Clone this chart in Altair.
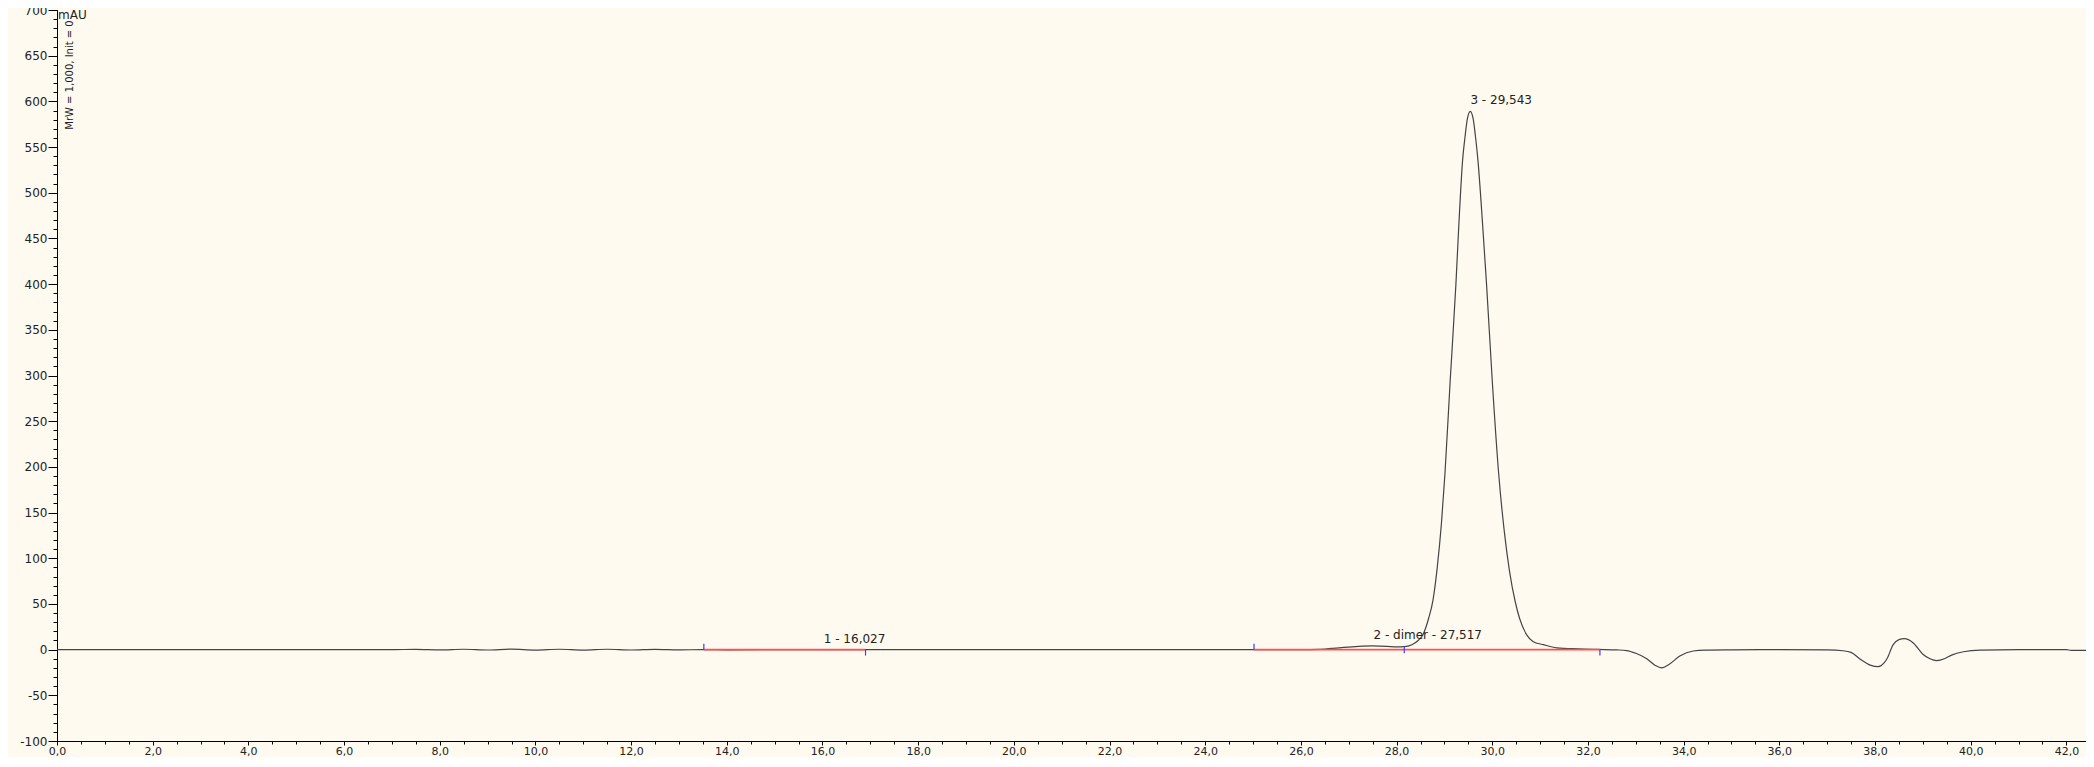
import altair as alt
import pandas as pd

# ---------------- data ----------------
times = [0.0, 2.0, 4.0, 6.0, 7.0, 7.5, 8.0, 8.5, 9.0, 9.5, 10.0, 10.5, 11.0, 11.5,
         12.0, 12.5, 13.0, 13.5, 14.0, 16.0, 20.0, 24.0, 26.0, 26.4, 26.8, 27.2,
         27.5, 27.8, 28.0, 28.16, 28.32, 28.45, 28.55, 28.67, 28.76, 28.85, 28.94,
         29.01, 29.12, 29.24, 29.30, 29.38, 29.43, 29.48, 29.54, 29.60, 29.65,
         29.70, 29.80, 29.88, 30.00, 30.13, 30.25, 30.36, 30.48, 30.57, 30.72,
         30.85, 31.07, 31.35, 31.8, 32.2, 32.6, 32.81, 33.0, 33.23, 33.4, 33.54,
         33.7, 33.92, 34.2, 34.45, 35.0, 36.0, 37.0, 37.33, 37.5, 37.69, 37.9,
         38.07, 38.18, 38.25, 38.38, 38.5, 38.61, 38.8, 39.0, 39.15, 39.29, 39.45,
         39.6, 39.85, 40.2, 41.0, 42.0, 42.1, 42.6]
signal = [0.0, 0.0, 0.0, 0.1, 0.0, 0.3, -0.3, 0.4, -0.4, 0.5, -0.5, 0.4, -0.5, 0.4,
          -0.4, 0.3, -0.3, 0.0, -0.2, 0.0, 0.0, 0.0, 0.0, 0.3, 2.0, 3.5,
          4.0, 3.6, 3.0, 3.2, 5.4, 10.0, 16.2, 34.3, 54.0, 90.0, 140.0,
          192.0, 294.0, 400.0, 463.6, 535.7, 561.0, 581.0, 589.0, 581.0, 561.0,
          535.7, 463.6, 400.0, 294.0, 195.0, 130.0, 86.0, 52.4, 34.3, 16.2,
          9.0, 5.4, 2.0, 0.8, 0.2, -0.3, -1.0, -4.0, -10.0, -17.0, -20.0,
          -16.0, -7.0, -1.5, -0.5, -0.2, 0.0, -0.3, -1.2, -3.0, -10.5, -17.0,
          -18.7, -15.0, -10.0, 5.5, 11.0, 12.0, 7.3, -5.0, -10.0, -12.0, -10.0,
          -6.0, -2.3, -0.5, 0.0, 0.0, -0.8, -0.8]

peak_labels = ["1 - 16,027", "2 - dimer - 27,517", "3 - 29,543"]
peak_rt = [16.027, 27.517, 29.543]
peak_height = [0.0, 4.0, 589.0]

base_start = [13.52, 25.02, 28.16]
base_end = [16.90, 28.16, 32.25]

marker_times = [13.52, 16.90, 25.02, 28.16, 32.25]
marker_dir = [1, -1, 1, 0, -1]

x_major = [float(v) for v in range(0, 43, 2)]
x_minor = [v * 0.5 for v in range(0, 86)]
y_major = list(range(-100, 701, 50))
y_minor = list(range(-100, 701, 10))

y_title = "mAU"
side_note = "MrW = 1,000, Init = 0"

# ---------------- tables ----------------
sig_df = pd.DataFrame({"t": times, "v": signal})
peak_df = pd.DataFrame({"t": peak_rt, "v": peak_height, "label": peak_labels})
base_df = pd.DataFrame({"t": base_start, "t2": base_end, "v": [0.0] * len(base_start)})
mark_df = pd.DataFrame({"t": marker_times, "d": marker_dir})

FONT = "DejaVu Sans"
TXT = "#222222"

xs = alt.Scale(domain=[0, 42.41], nice=False, zero=False)
ys = alt.Scale(domain=[-100, 700], nice=False, zero=False)

x_axis_major = alt.Axis(values=x_major, tickSize=4, title=None, grid=False,
                        labelExpr="replace(format(datum.value, '.1f'), '.', ',')",
                        labelFont=FONT, labelFontSize=11, labelColor=TXT,
                        labelPadding=0, labelFlush=False, labelOverlap=False,
                        domainColor="black", tickColor="black", orient="bottom")
y_axis_major = alt.Axis(values=y_major, tickSize=9, title=None, grid=False,
                        labelExpr="datum.value + ''",
                        labelFont=FONT, labelFontSize=12, labelColor=TXT,
                        labelPadding=1, labelOverlap=False,
                        domainColor="black", tickColor="black", orient="left")
x_axis_minor = alt.Axis(values=x_minor, tickSize=3, title=None, grid=False,
                        labels=False, domain=False, tickColor="black", orient="bottom")
y_axis_minor = alt.Axis(values=y_minor, tickSize=4, title=None, grid=False,
                        labels=False, domain=False, tickColor="black", orient="left")

line = alt.Chart(sig_df).mark_line(color="#444444", strokeWidth=1.2,
                                   interpolate="monotone", clip=True).encode(
    x=alt.X("t:Q", scale=xs, axis=x_axis_major),
    y=alt.Y("v:Q", scale=ys, axis=y_axis_major),
)

base = alt.Chart(base_df).mark_rule(color="#ff4f4f", strokeWidth=1.7, clip=True).encode(
    x=alt.X("t:Q", scale=xs, axis=x_axis_minor),
    x2="t2:Q",
    y=alt.Y("v:Q", scale=ys, axis=y_axis_minor),
)

markers = alt.Chart(mark_df).transform_calculate(
    top="datum.d == 0 ? 4 : (datum.d > 0 ? 6.5 : 0)",
    bot="datum.d == 0 ? -4 : (datum.d > 0 ? 0 : -6.5)",
).mark_rule(color="#3d3dff", strokeWidth=1.2).encode(
    x=alt.X("t:Q", scale=xs, axis=None),
    y=alt.Y("top:Q", scale=ys, axis=None),
    y2="bot:Q",
)

labels = alt.Chart(peak_df).mark_text(align="left", baseline="bottom", dy=-4, dx=0,
                                      font=FONT, fontSize=12, color=TXT).encode(
    x=alt.X("t:Q", scale=xs, axis=None),
    y=alt.Y("v:Q", scale=ys, axis=None),
    text="label:N",
)

title_txt = alt.Chart(pd.DataFrame({"s": [y_title]})).mark_text(
    align="left", baseline="top", font=FONT, fontSize=12, color=TXT).encode(
    x=alt.value(1), y=alt.value(0), text="s:N")

note_txt = alt.Chart(pd.DataFrame({"s": [side_note]})).mark_text(
    align="center", baseline="middle", angle=270, font=FONT, fontSize=10,
    color=TXT).encode(x=alt.value(13), y=alt.value(65), text="s:N")

chart = alt.layer(line, base, markers, labels, title_txt, note_txt).resolve_axis(
    x="independent", y="independent"
).properties(
    width=2029, height=731,
    padding={"left": 49, "top": 2, "right": 0, "bottom": 16},
    autosize=alt.AutoSizeParams(type="none"),
    background="#fffaf0",
).configure_view(stroke=None, fill="#fffaf0")

chart.save("out.html", embed_options={"renderer": "svg", "actions": False})
